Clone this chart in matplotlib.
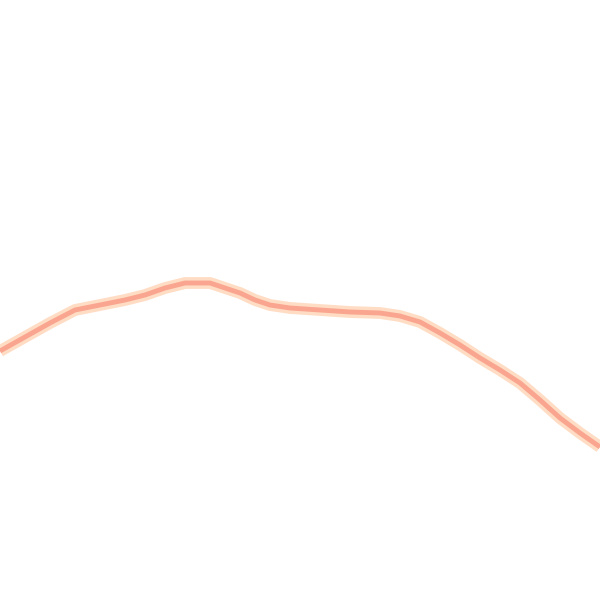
import matplotlib
matplotlib.use("Agg")
import matplotlib.pyplot as plt

# line values (x across, y down from top)
x_vals = [0, 25, 50, 75, 100, 125, 145, 165, 185, 210, 225, 240, 255, 270, 290,
          320, 350, 380, 400, 420, 440, 460, 480, 500, 520, 540, 560, 580, 600]
y_vals = [351, 337, 323, 310, 305, 300, 295, 288, 283, 283, 288, 293, 300, 305, 308,
          310, 312, 313, 316, 322, 333, 345, 358, 370, 383, 400, 418, 433, 447]

fig = plt.figure(figsize=(6, 6), dpi=100)
ax = fig.add_axes([0, 0, 1, 1])

# soft halo then the core line
ax.plot(x_vals, y_vals, color="#FFDCC4", lw=8.5, solid_capstyle="butt", solid_joinstyle="round")
ax.plot(x_vals, y_vals, color="#F9A58F", lw=3.5, solid_capstyle="butt", solid_joinstyle="round")

ax.set_xlim(0, 600)
ax.set_ylim(600, 0)
ax.axis("off")

fig.savefig("out.png", dpi=100, facecolor="white")
